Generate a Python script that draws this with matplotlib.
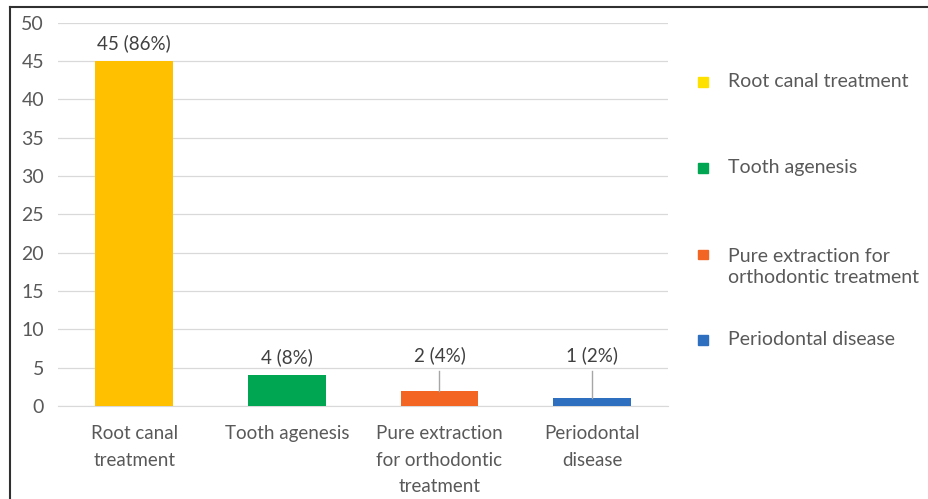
import matplotlib.pyplot as plt
from matplotlib.patches import Rectangle

categories = ["Root canal\ntreatment", "Tooth agenesis", "Pure extraction\nfor orthodontic\ntreatment", "Periodontal\ndisease"]
legend_names = ["Root canal treatment", "Tooth agenesis", "Pure extraction for\northodontic treatment", "Periodontal disease"]
counts = [45, 4, 2, 1]
labels = ["45 (86%)", "4 (8%)", "2 (4%)", "1 (2%)"]
bar_colors = ["#FFC000", "#00A651", "#F26522", "#2E6FBF"]
legend_colors = ["#FFE100", "#00A651", "#F26522", "#2E6FBF"]

plt.rcParams['font.family'] = ['Lato', 'DejaVu Sans']
txt = "#595959"
fs = 13.5

fig = plt.figure(figsize=(9.29, 4.99), dpi=100)
ax = fig.add_axes([0.0624, 0.1864, 0.657, 0.768])

x = range(len(counts))
ax.bar(x, counts, width=0.51, color=bar_colors, zorder=3)
ax.set_xlim(-0.5, 3.5)
ax.set_ylim(0, 50)
ax.set_yticks(range(0, 51, 5))
ax.set_xticks(list(x))
ax.set_xticklabels(categories, color=txt, fontsize=fs, linespacing=1.65)
ax.tick_params(axis='both', length=0, labelsize=14, labelcolor=txt)
ax.tick_params(axis='y', pad=10)
ax.tick_params(axis='x', pad=14, labelsize=fs)
ax.grid(axis='y', color="#D9D9D9", linewidth=0.9, zorder=0)
for s in ['top', 'right', 'left']:
    ax.spines[s].set_visible(False)
ax.spines['bottom'].set_color("#D9D9D9")

# data labels, small bars get a leader line
for i, (c, lab) in enumerate(zip(counts, labels)):
    if c >= 4:
        ax.text(i, c + 1.2, lab, ha='center', va='bottom', fontsize=fs, color="#404040")
    else:
        ax.text(i, 5.4, lab, ha='center', va='bottom', fontsize=fs, color="#404040")
        ax.plot([i, i], [c, 4.6], color="#A6A6A6", linewidth=1, zorder=4)

# legend on the right
leg_y = [0.836, 0.664, 0.465, 0.319]
for name, col, y in zip(legend_names, legend_colors, leg_y):
    off = 0.025 if "\n" in name else 0
    fig.patches.append(Rectangle((0.7515, y + off - 0.010), 0.0105, 0.019, color=col,
                                 transform=fig.transFigure, figure=fig))
    fig.text(0.7835, y, name, ha='left', va='center',
             fontsize=14, color=txt, linespacing=1.3)

# frame of the original figure
fig.add_artist(plt.Line2D([0.0113, 0.0113], [0, 0.986], color="#303030", linewidth=1.5,
                          transform=fig.transFigure))
fig.add_artist(plt.Line2D([0.0113, 1], [0.986, 0.986], color="#303030", linewidth=1.5,
                          transform=fig.transFigure))

fig.savefig("out.png", dpi=100)
